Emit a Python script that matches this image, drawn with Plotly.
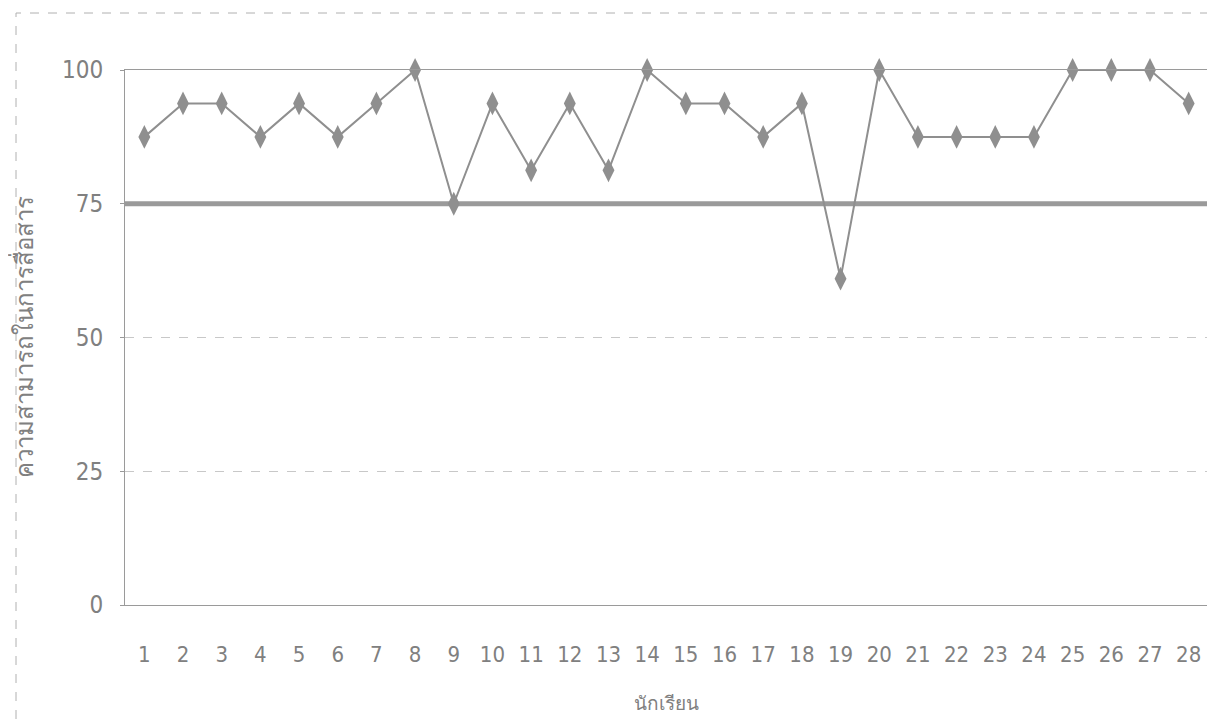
import plotly.graph_objects as go

students = list(range(1, 29))
scores = [87.5, 93.75, 93.75, 87.5, 93.75, 87.5, 93.75, 100, 75, 93.75,
          81.25, 93.75, 81.25, 100, 93.75, 93.75, 87.5, 93.75, 61, 100,
          87.5, 87.5, 87.5, 87.5, 100, 100, 100, 93.75]
criterion = 75
y_ticks = [0, 25, 50, 75, 100]

GRAY = "#8f8f8f"
TXT = "#808080"
FONT = "Liberation Sans Narrow, DejaVu Sans Condensed, Liberation Sans, Arial, sans-serif"

fig = go.Figure()

fig.add_trace(go.Scatter(
    x=[0.5, 28.5], y=[criterion, criterion], mode="lines",
    line=dict(color="#9a9a9a", width=5), hoverinfo="skip", showlegend=False,
))

fig.add_trace(go.Scatter(
    x=students, y=scores, mode="lines+markers",
    line=dict(color=GRAY, width=2),
    marker=dict(symbol="diamond-tall", size=17, color=GRAY),
    cliponaxis=False, showlegend=False,
))

fig.update_layout(
    width=1215, height=721,
    margin=dict(l=117, r=15, t=62, b=124),
    paper_bgcolor="white", plot_bgcolor="white",
    font=dict(family=FONT, color=TXT),
    xaxis=dict(
        range=[0.5, 28.5], tickmode="array", tickvals=students,
        ticktext=[str(s) for s in students],
        tickfont=dict(size=22, color=TXT, family=FONT),
        ticklabelstandoff=30, automargin=False,
        showgrid=False, zeroline=False,
        showline=True, linecolor="#9a9a9a", linewidth=1, mirror=True,
        ticks="", ticklen=0,
        title=dict(text="นักเรียน", font=dict(size=19, color=TXT), standoff=30),
    ),
    yaxis=dict(
        range=[0, 100], tickmode="array", tickvals=y_ticks,
        tickfont=dict(size=24, color=TXT, family=FONT),
        ticklabelstandoff=12, automargin=False,
        showgrid=True, gridcolor="#c8c8c8", griddash="dash", gridwidth=1,
        zeroline=False,
        showline=True, linecolor="#9a9a9a", linewidth=1, mirror=True,
        ticks="outside", ticklen=4, tickcolor="#9a9a9a",
        title=dict(text="ความสามารถในการสื่อสาร", font=dict(size=24, color=TXT), standoff=26),
    ),
    shapes=[dict(
        type="rect", xref="paper", yref="paper",
        x0=-109 / 1083, x1=1 + 13 / 1083, y0=-117 / 535, y1=1 + 57 / 535,
        line=dict(color="#b0b0b0", width=1, dash="dash"),
    )],
)

fig.write_html("out.html")
